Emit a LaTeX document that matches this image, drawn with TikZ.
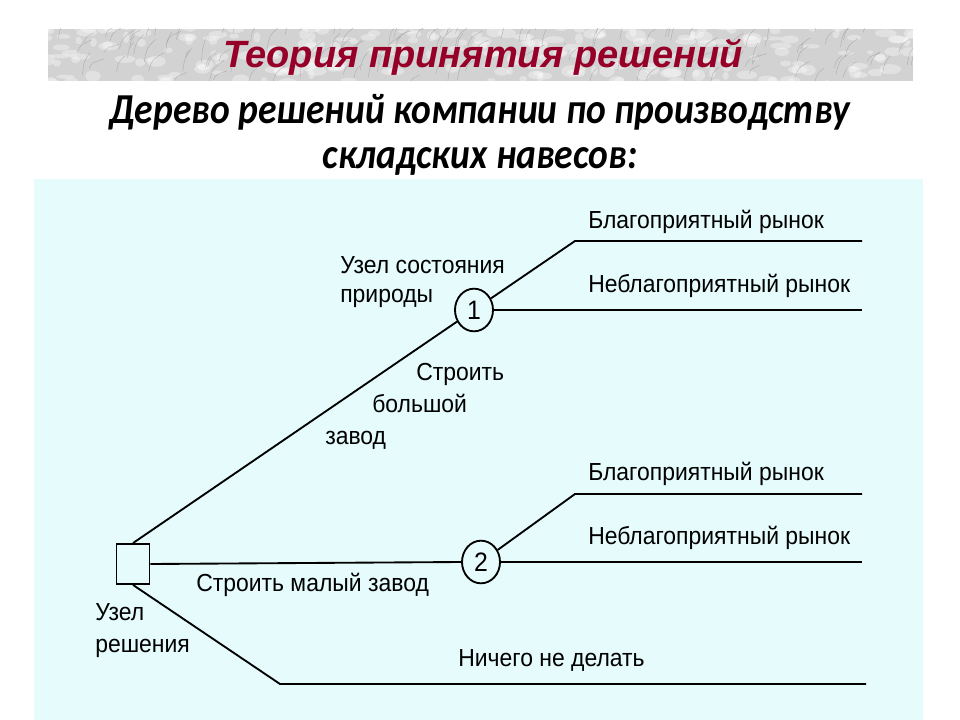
\documentclass[tikz,border=0pt]{standalone}
\usepackage{fontspec}
\setmainfont{Liberation Sans}
\newfontfamily\subfont[FakeStretch=0.88]{Carlito}
\newfontfamily\titlefont{Liberation Sans}
\newfontfamily\treefont[FakeStretch=0.93]{Liberation Sans}
\usetikzlibrary{shapes.geometric}
\definecolor{panelcol}{RGB}{230,252,252}
\definecolor{titlered}{RGB}{150,0,40}
\definecolor{marble}{RGB}{210,210,210}
\definecolor{vein}{RGB}{140,140,140}
\tikzset{
  tree/.style={line width=1.4pt, black},
  dnode/.style={draw, line width=1.4pt, rectangle, minimum width=24.75pt, minimum height=30pt, inner sep=0pt},
  cnode/.style={draw, line width=1.4pt, ellipse, minimum width=28.5pt, minimum height=32pt, inner sep=0pt, font=\treefont\fontsize{20}{22}\selectfont},
  lbl/.style={anchor=base west, inner sep=0pt, font=\treefont\fontsize{18.5}{22}\selectfont},
  ttl/.style={font=\titlefont\bfseries\itshape\fontsize{28.5}{32}\selectfont, text=titlered, inner sep=0pt, anchor=base},
  sub/.style={font=\subfont\bfseries\itshape\fontsize{32}{38}\selectfont, inner sep=0pt, anchor=base}
}
\begin{document}
\begin{tikzpicture}[x=0.75pt,y=-0.75pt]
\useasboundingbox (0,0) rectangle (960,720);
\fill[white] (0,0) rectangle (960,720);
% banner
\begin{scope}
\clip (48,29) rectangle (913,81);
\fill[marble] (48,29) rectangle (913,81);
\pgfmathsetseed{11}
\foreach \i in {1,...,260}{
  \pgfmathsetmacro\xa{40+rnd*880}
  \pgfmathsetmacro\ya{25+rnd*60}
  \pgfmathsetmacro\rx{3+rnd*8}
  \pgfmathsetmacro\ry{2+rnd*4}
  \fill[white, opacity=0.35] (\xa,\ya) ellipse [x radius=\rx, y radius=\ry];
}
\foreach \i in {1,...,150}{
  \pgfmathsetmacro\xa{40+rnd*880}
  \pgfmathsetmacro\ya{25+rnd*60}
  \pgfmathsetmacro\dx{4+rnd*12}
  \pgfmathsetmacro\dy{8+rnd*16}
  \draw[vein, line width=0.3pt, opacity=0.55] (\xa,\ya) .. controls (\xa+\dx*0.2,\ya-\dy*0.6) .. (\xa+\dx,\ya-\dy);
}
\end{scope}
\node[ttl] (T) at (483,68) {Теория принятия решений};
\node[sub] (S1) at (480,124) {Дерево решений компании по производству};
\node[sub] (S2) at (480,169) {складских навесов:};
% panel
\fill[panelcol] (34,179) rectangle (923,720);
% tree nodes
\node[dnode] (D) at (133,564) {};
\node[cnode] (C1) at (474,310) {1};
\node[cnode] (C2) at (481,562) {2};
\coordinate (B1) at (575,241);
\coordinate (E1) at (862,241);
\coordinate (E2) at (862,310);
\coordinate (B2) at (575,494);
\coordinate (E3) at (862,494);
\coordinate (E4) at (862,562);
\coordinate (B3) at (280,684);
\coordinate (E5) at (866,684);
% connectors
\draw[tree] (D.north) -- (C1);
\draw[tree] (D.east) -- (C2.west);
\draw[tree] (D.south) -- (B3) -- (E5);
\draw[tree] (C1) -- (B1) -- (E1);
\draw[tree] (C1.east) -- (E2);
\draw[tree] (C2) -- (B2) -- (E3);
\draw[tree] (C2.east) -- (E4);
% labels
\node[lbl] (L1) at (588,229) {Благоприятный рынок};
\node[lbl] (L2) at (588,292) {Неблагоприятный рынок};
\node[lbl] (L3) at (588,480) {Благоприятный рынок};
\node[lbl] (L4) at (588,544) {Неблагоприятный рынок};
\node[lbl] (L5) at (340,274) {Узел состояния};
\node[lbl] (L6) at (340,302) {природы};
\node[lbl] (L7) at (416,380) {Строить};
\node[lbl] (L8) at (372,412) {большой};
\node[lbl] (L9) at (325,444) {завод};
\node[lbl] (L10) at (196,591) {Строить малый завод};
\node[lbl] (L11) at (95,620) {Узел};
\node[lbl] (L12) at (95,652) {решения};
\node[lbl] (L13) at (458,666) {Ничего не делать};
\end{tikzpicture}
\end{document}
